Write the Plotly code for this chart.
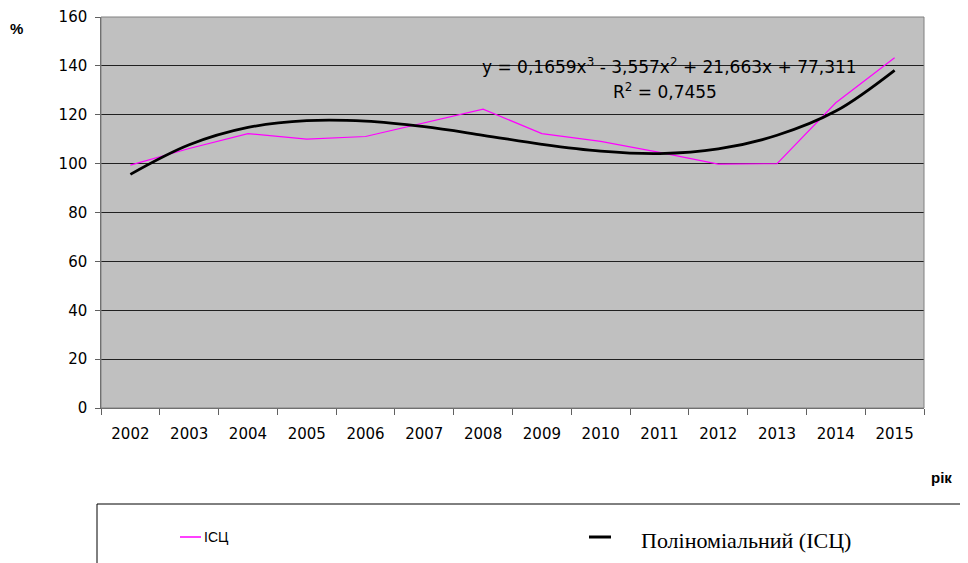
import plotly.graph_objects as go

years = ["2002", "2003", "2004", "2005", "2006", "2007", "2008",
         "2009", "2010", "2011", "2012", "2013", "2014", "2015"]
cpi = [99.4, 106.2, 112.3, 110.0, 111.1, 116.6, 122.3,
       112.3, 109.1, 104.6, 99.8, 100.0, 124.9, 143.3]
# polynomial trend
trend = [95.6, 107.7, 114.8, 117.6, 117.4, 115.1, 111.6,
         107.9, 105.1, 104.1, 106.0, 111.6, 121.5, 138.2]

W, H = 968, 563
OFF = 8  # page body margin shifts the figure on screen
L, T = 101 - OFF, 17 - OFF
R = W - (924 - OFF)
B = H - (408 - OFF)
pw, ph = W - L - R, H - T - B


def px(x):
    # screen x -> paper
    return (x - OFF - L) / pw


def py(y):
    # screen y -> paper
    return (T + ph - (y - OFF)) / ph


fig = go.Figure(layout=dict(width=W, height=H))

fig.add_trace(go.Scatter(
    x=years, y=cpi, mode="lines", name="ІСЦ",
    line=dict(color="#FF00FF", width=1.2)))
fig.add_trace(go.Scatter(
    x=years, y=trend, mode="lines", name="Поліноміальний (ІСЦ)",
    line=dict(color="black", width=2.8, shape="spline")))

fig.update_layout(
    margin=dict(l=L, r=R, t=T, b=B),
    paper_bgcolor="white",
    plot_bgcolor="#C0C0C0",
    font=dict(family="DejaVu Sans", size=15, color="black"),
    showlegend=False,
)

fig.update_yaxes(
    range=[0, 160], dtick=20, showgrid=True, gridcolor="#202020", gridwidth=1,
    showline=True, linecolor="#606060", linewidth=1, automargin=False,
    ticks="outside", ticklen=5, tickcolor="#606060", zeroline=False,
    ticksuffix=" ",
)
fig.update_xaxes(
    type="category", range=[-0.5, 13.5], automargin=False, tickangle=0,
    showgrid=False, showline=True, linecolor="#606060", linewidth=1,
    ticks="outside", ticklen=6, tickcolor="#606060", tickson="boundaries",
    ticklabelstandoff=12,
)

# plot area frame
fig.add_shape(type="rect", xref="paper", yref="paper", x0=0, x1=1, y0=0, y1=1,
              line=dict(color="#808080", width=1))

# legend box (runs past the right edge as in the original)
fig.add_shape(type="rect", xref="paper", yref="paper",
              x0=px(97), x1=px(1000), y0=py(504), y1=py(590),
              line=dict(color="black", width=1))
fig.add_shape(type="line", xref="paper", yref="paper",
              x0=px(180), x1=px(201), y0=py(537), y1=py(537),
              line=dict(color="#FF00FF", width=1.5))
fig.add_annotation(text="ІСЦ", xref="paper", yref="paper",
                   x=px(202), y=py(537), xanchor="left", yanchor="middle",
                   showarrow=False,
                   font=dict(family="Liberation Sans Narrow, Liberation Sans", size=14))
fig.add_shape(type="line", xref="paper", yref="paper",
              x0=px(589), x1=px(611), y0=py(537), y1=py(537),
              line=dict(color="black", width=3))
fig.add_annotation(text="Поліноміальний (ІСЦ)", xref="paper", yref="paper",
                   x=px(639), y=py(540), xanchor="left", yanchor="middle",
                   showarrow=False,
                   font=dict(family="Liberation Serif", size=22))

fig.add_annotation(text="<b>%</b>", xref="paper", yref="paper",
                   x=px(16), y=py(28), xanchor="center", yanchor="middle",
                   showarrow=False, font=dict(family="Liberation Sans", size=15))
fig.add_annotation(text="<b>рік</b>", xref="paper", yref="paper",
                   x=px(942), y=py(477), xanchor="center", yanchor="middle",
                   showarrow=False, font=dict(family="Liberation Sans", size=15))
fig.add_annotation(
    text="y = 0,1659x<sup>3</sup> - 3,557x<sup>2</sup> + 21,663x + 77,311",
    xref="paper", yref="paper", x=px(669), y=py(66), xanchor="center",
    yanchor="middle", showarrow=False, font=dict(size=17))
fig.add_annotation(
    text="R<sup>2</sup> = 0,7455",
    xref="paper", yref="paper", x=px(665), y=py(91), xanchor="center",
    yanchor="middle", showarrow=False, font=dict(size=17))

fig.write_html("out.html")
